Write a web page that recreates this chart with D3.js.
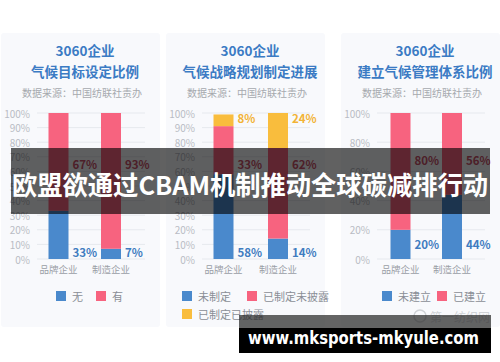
<!DOCTYPE html>
<html>
<head>
<meta charset="utf-8">
<title>3060企业</title>
<script src="https://d3js.org/d3.v7.min.js"></script>
<style>
  body, html { margin: 0; padding: 0; background: #fff; }
  svg { display: block; font-family: "Noto Sans CJK SC", "Noto Sans", sans-serif; }
  .grid line { stroke: #e6e9ee; stroke-width: 1; }
  .ytick { fill: #b8bcc4; font-size: 10px; }
  .xlab { fill: #9a9ea6; font-size: 9.5px; }
  .ttl { fill: #3b7bc4; font-weight: bold; font-size: 13.5px; }
  .src { fill: #a6a9ae; font-size: 10px; }
  .leg { fill: #8a8e96; font-size: 11px; }
</style>
</head>
<body>
<svg id="chart" width="500" height="362"></svg>
<script>
// data
var categories = ["品牌企业", "制造企业"];

var p1Titles = ["3060企业", "气候目标设定比例"];
var p1Names = ["无", "有"];
var p1None = [33, 7];
var p1Yes = [67, 93];
var p1Ticks = [0, 10, 20, 30, 40, 50, 60, 70, 80, 90, 100];

var p2Titles = ["3060企业", "气候战略规划制定进展"];
var p2Names = ["未制定", "已制定未披露", "已制定已披露"];
var p2NotMade = [58, 14];
var p2Undisclosed = [33, 62];
var p2Disclosed = [8, 24];
var p2Ticks = [0, 10, 20, 30, 40, 50, 60, 70, 80, 90, 100];

var p3Titles = ["3060企业", "建立气候管理体系比例"];
var p3Names = ["未建立", "已建立"];
var p3NotBuilt = [20, 44];
var p3Built = [80, 56];
var p3Ticks = [0, 20, 40, 60, 80, 100];

var source = "数据来源：中国纺联社责办";
var headline = "欧盟欲通过CBAM机制推动全球碳减排行动";
var siteUrl = "www.mksports-mkyule.com";
var sourceMark = "第一纺织网";

var colors = ["#4a89cc", "#f7637f", "#f9bd3d"];
var labelColors = ["#3f7cc0", "#c9536a", "#f2b335"];

var svg = d3.select("#chart");
var y = d3.scaleLinear().domain([0, 100]).range([259, 113]);

var panels = [
  { ox: 0, titles: p1Titles, names: p1Names, series: [p1None, p1Yes], ticks: p1Ticks,
    centers: [58.5, 111], labelY: [252, 164, 118], leg: [[56, 296], [96, 296]] },
  { ox: 165, titles: p2Titles, names: p2Names, series: [p2NotMade, p2Undisclosed, p2Disclosed], ticks: p2Ticks,
    centers: [58.5, 113], labelY: [252, 164, 118], leg: [[17, 296], [82, 296], [17, 314]] },
  { ox: 340, titles: p3Titles, names: p3Names, series: [p3NotBuilt, p3Built], ticks: p3Ticks,
    centers: [60.5, 112], labelY: [244, 160, 118], leg: [[42, 296], [97, 296]] }
];

panels.forEach(function(p) {
  var g = svg.append("g").attr("transform", "translate(" + p.ox + ",0)");

  g.append("rect")
    .attr("x", 1).attr("y", 33).attr("width", 159).attr("height", 294)
    .attr("rx", 3).attr("fill", "#f8f9fc");

  g.selectAll(".ttl").data(p.titles).enter().append("text")
    .attr("class", "ttl")
    .attr("x", 85).attr("y", function(d, i) { return 50 + i * 21; })
    .attr("text-anchor", "middle").attr("dominant-baseline", "central")
    .text(function(d) { return d; });

  g.append("text").attr("class", "src")
    .attr("x", 82).attr("y", 92)
    .attr("text-anchor", "middle").attr("dominant-baseline", "central")
    .text(source);

  var grid = g.append("g").attr("class", "grid");
  grid.selectAll("line").data(p.ticks).enter().append("line")
    .attr("x1", 37).attr("x2", 145)
    .attr("y1", function(d) { return y(d); })
    .attr("y2", function(d) { return y(d); });

  g.selectAll(".ytick").data(p.ticks).enter().append("text")
    .attr("class", "ytick")
    .attr("x", 30).attr("y", function(d) { return y(d); })
    .attr("text-anchor", "end").attr("dominant-baseline", "central")
    .text(function(d) { return d + "%"; });

  var x = d3.scalePoint().domain(categories).range(p.centers);
  var bw = 20;

  var rows = categories.map(function(c, i) {
    var r = { cat: c };
    p.series.forEach(function(s, k) { r["s" + k] = s[i]; });
    return r;
  });
  var keys = p.series.map(function(s, k) { return "s" + k; });
  var stack = d3.stack().keys(keys)(rows);

  stack.forEach(function(layer, k) {
    g.selectAll(".bar" + k).data(layer).enter().append("rect")
      .attr("x", function(d) { return x(d.data.cat) - bw / 2; })
      .attr("width", bw)
      .attr("y", function(d) { return y(d[1]); })
      .attr("height", function(d) { return y(d[0]) - y(d[1]); })
      .attr("fill", colors[k]);

    g.selectAll(".lab" + k).data(layer).enter().append("text")
      .attr("x", function(d) { return x(d.data.cat) + bw / 2 + 4; })
      .attr("y", p.labelY[k])
      .attr("dominant-baseline", "central")
      .attr("font-size", "11.5px").attr("font-weight", "bold")
      .attr("fill", labelColors[k])
      .text(function(d) { return d.data["s" + k] + "%"; });
  });

  g.selectAll(".xlab").data(categories).enter().append("text")
    .attr("class", "xlab")
    .attr("x", function(d) { return x(d); }).attr("y", 269)
    .attr("text-anchor", "middle").attr("dominant-baseline", "central")
    .text(function(d) { return d; });

  p.names.forEach(function(n, k) {
    var pos = p.leg[k];
    g.append("rect").attr("x", pos[0]).attr("y", pos[1] - 5)
      .attr("width", 10).attr("height", 10).attr("fill", colors[k]);
    g.append("text").attr("class", "leg")
      .attr("x", pos[0] + 16).attr("y", pos[1])
      .attr("dominant-baseline", "central")
      .text(n);
  });
});

// source mark (faint)
svg.append("circle").attr("cx", 420).attr("cy", 316).attr("r", 6)
  .attr("fill", "none").attr("stroke", "#cfd2d6").attr("stroke-width", 1.5);
svg.append("text").attr("x", 430).attr("y", 316)
  .attr("dominant-baseline", "central")
  .attr("font-size", "12px").attr("fill", "#cfd2d6")
  .attr("textLength", 60).attr("lengthAdjust", "spacingAndGlyphs")
  .text(sourceMark);

// headline band
svg.append("rect").attr("x", 11).attr("y", 148).attr("width", 479).attr("height", 66)
  .attr("fill", "rgba(0,0,0,0.62)");
svg.append("text")
  .attr("x", 12).attr("y", 183)
  .attr("dominant-baseline", "central")
  .attr("font-size", "26px").attr("font-weight", "bold").attr("fill", "#fff")
  .attr("textLength", 476).attr("lengthAdjust", "spacingAndGlyphs")
  .text(headline);

// site band
svg.append("rect").attr("x", 239).attr("y", 315).attr("width", 252).attr("height", 13)
  .attr("fill", "rgba(40,40,40,0.72)");
svg.append("rect").attr("x", 239).attr("y", 328).attr("width", 252).attr("height", 25)
  .attr("fill", "#000");
svg.append("text")
  .attr("x", 248).attr("y", 338)
  .attr("dominant-baseline", "central")
  .attr("font-family", "DejaVu Sans, sans-serif")
  .attr("font-size", "17px").attr("font-weight", "bold").attr("fill", "#fff")
  .attr("textLength", 231).attr("lengthAdjust", "spacingAndGlyphs")
  .text(siteUrl);
</script>
</body>
</html>
